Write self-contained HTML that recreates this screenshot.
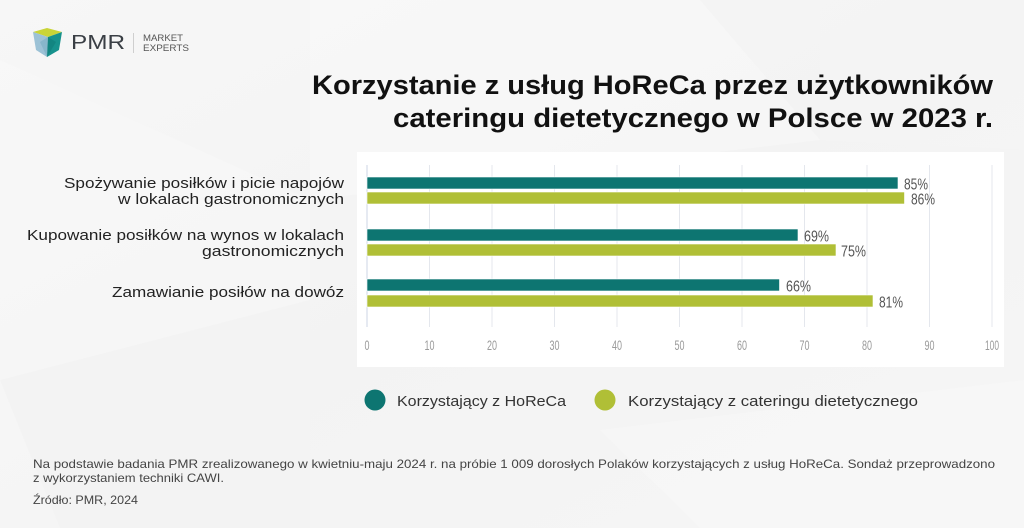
<!DOCTYPE html>
<html><head><meta charset="utf-8"><style>
html,body{margin:0;padding:0;width:1024px;height:528px;overflow:hidden;background:#f4f4f4}
svg{display:block}
</style></head><body>
<svg width="1024" height="528" viewBox="0 0 1024 528" xmlns="http://www.w3.org/2000/svg" font-family="'Liberation Sans', sans-serif">
<defs>
<linearGradient id="bg" x1="0" y1="0" x2="1" y2="1">
<stop offset="0" stop-color="#f7f7f7"/><stop offset="0.5" stop-color="#f3f3f3"/><stop offset="1" stop-color="#f6f6f6"/>
</linearGradient>
</defs>
<rect width="1024" height="528" fill="url(#bg)"/>
<polygon points="0,60 310,200 310,528 0,528" fill="#ffffff" opacity="0.2"/>
<polygon points="310,0 700,0 820,140 310,200" fill="#ffffff" opacity="0.25"/>
<polygon points="820,0 1024,0 1024,150 820,140" fill="#ffffff" opacity="0.15"/>
<polygon points="0,380 310,300 310,528 60,528" fill="#ebebeb" opacity="0.2"/>
<polygon points="600,430 1024,380 1024,528 700,528" fill="#ffffff" opacity="0.2"/>

<!-- Logo -->
<polygon points="33,32 47,28 62,32 48,37" fill="#c9d437"/>
<polygon points="33,32 48,37 47,57 36,50" fill="#9cc2d6"/>
<polygon points="48,37 62,32 59,50 47,57" fill="#17928d"/>
<polygon points="40,42 48,37 47,57" fill="#7fb0c6" opacity="0.7"/>
<polygon points="48,37 56,42 47,57" fill="#0f7d79" opacity="0.6"/>
<text x="71" y="49" font-size="20" fill="#3a3f45" textLength="54" lengthAdjust="spacingAndGlyphs">PMR</text>
<line x1="133.5" y1="33" x2="133.5" y2="53" stroke="#cfcfcf" stroke-width="1"/>
<text x="143" y="41" font-size="9" fill="#555" textLength="40" lengthAdjust="spacingAndGlyphs">MARKET</text>
<text x="143" y="51" font-size="9" fill="#555" textLength="46" lengthAdjust="spacingAndGlyphs">EXPERTS</text>

<!-- Title -->
<text x="993" y="94" font-size="27" font-weight="bold" fill="#111" text-anchor="end" textLength="681" lengthAdjust="spacingAndGlyphs">Korzystanie z usług HoReCa przez użytkowników</text>
<text x="993" y="127" font-size="27" font-weight="bold" fill="#111" text-anchor="end" textLength="600" lengthAdjust="spacingAndGlyphs">cateringu dietetycznego w Polsce w 2023 r.</text>

<!-- Category labels -->
<g font-size="15" fill="#222" text-anchor="end">
<text x="344" y="188" textLength="280" lengthAdjust="spacingAndGlyphs">Spożywanie posiłków i picie napojów</text>
<text x="344" y="204" textLength="226" lengthAdjust="spacingAndGlyphs">w lokalach gastronomicznych</text>
<text x="344" y="240" textLength="317" lengthAdjust="spacingAndGlyphs">Kupowanie posiłków na wynos w lokalach</text>
<text x="344" y="256" textLength="142" lengthAdjust="spacingAndGlyphs">gastronomicznych</text>
<text x="344" y="297" textLength="232" lengthAdjust="spacingAndGlyphs">Zamawianie posiłów na dowóz</text>
</g>

<!-- Chart panel -->
<rect x="357" y="152" width="647" height="215" fill="#ffffff"/>
<g stroke="#e4e7ed" stroke-width="1">
<line x1="429.5" y1="165" x2="429.5" y2="327"/>
<line x1="492" y1="165" x2="492" y2="327"/>
<line x1="554.5" y1="165" x2="554.5" y2="327"/>
<line x1="617" y1="165" x2="617" y2="327"/>
<line x1="679.5" y1="165" x2="679.5" y2="327"/>
<line x1="742" y1="165" x2="742" y2="327"/>
<line x1="804.5" y1="165" x2="804.5" y2="327"/>
<line x1="867" y1="165" x2="867" y2="327"/>
<line x1="929.5" y1="165" x2="929.5" y2="327"/>
<line x1="992" y1="165" x2="992" y2="327"/>
</g>
<line x1="367" y1="165" x2="367" y2="327" stroke="#cdd6e6" stroke-width="1"/>

<!-- Bars -->
<g stroke="#ffffff" stroke-width="0.6">
<rect x="367" y="177" width="531" height="12" fill="#0d7571"/>
<rect x="367" y="192" width="537.5" height="12" fill="#b0bf36"/>
<rect x="367" y="229" width="431" height="12" fill="#0d7571"/>
<rect x="367" y="244" width="469" height="12" fill="#b0bf36"/>
<rect x="367" y="279" width="412.5" height="12" fill="#0d7571"/>
<rect x="367" y="295" width="506" height="12" fill="#b0bf36"/>
</g>

<!-- Value labels -->
<g font-size="16" fill="#555">
<text x="904" y="189.5" textLength="24" lengthAdjust="spacingAndGlyphs">85%</text>
<text x="911" y="204.5" textLength="24" lengthAdjust="spacingAndGlyphs">86%</text>
<text x="804" y="241.5" textLength="25" lengthAdjust="spacingAndGlyphs">69%</text>
<text x="841" y="256.5" textLength="25" lengthAdjust="spacingAndGlyphs">75%</text>
<text x="786" y="291.5" textLength="25" lengthAdjust="spacingAndGlyphs">66%</text>
<text x="879" y="307.5" textLength="24" lengthAdjust="spacingAndGlyphs">81%</text>
</g>

<!-- Tick labels -->
<g font-size="14" fill="#9a9a9a" text-anchor="middle">
<text x="367" y="350" textLength="5" lengthAdjust="spacingAndGlyphs">0</text>
<text x="429.5" y="350" textLength="10" lengthAdjust="spacingAndGlyphs">10</text>
<text x="492" y="350" textLength="10" lengthAdjust="spacingAndGlyphs">20</text>
<text x="554.5" y="350" textLength="10" lengthAdjust="spacingAndGlyphs">30</text>
<text x="617" y="350" textLength="10" lengthAdjust="spacingAndGlyphs">40</text>
<text x="679.5" y="350" textLength="10" lengthAdjust="spacingAndGlyphs">50</text>
<text x="742" y="350" textLength="10" lengthAdjust="spacingAndGlyphs">60</text>
<text x="804.5" y="350" textLength="10" lengthAdjust="spacingAndGlyphs">70</text>
<text x="867" y="350" textLength="10" lengthAdjust="spacingAndGlyphs">80</text>
<text x="929.5" y="350" textLength="10" lengthAdjust="spacingAndGlyphs">90</text>
<text x="992" y="350" textLength="14" lengthAdjust="spacingAndGlyphs">100</text>
</g>

<!-- Legend -->
<circle cx="375" cy="400" r="10.5" fill="#0d7571"/>
<text x="397" y="406" font-size="15" fill="#333" textLength="169" lengthAdjust="spacingAndGlyphs">Korzystający z HoReCa</text>
<circle cx="605" cy="400" r="10.5" fill="#b0bf36"/>
<text x="628" y="406" font-size="15" fill="#333" textLength="290" lengthAdjust="spacingAndGlyphs">Korzystający z cateringu dietetycznego</text>

<!-- Footnote -->
<g font-size="12" fill="#444">
<text x="33" y="468" textLength="962" lengthAdjust="spacingAndGlyphs">Na podstawie badania PMR zrealizowanego w kwietniu-maju 2024 r. na próbie 1 009 dorosłych Polaków korzystających z usług HoReCa. Sondaż przeprowadzono</text>
<text x="33" y="482" textLength="191" lengthAdjust="spacingAndGlyphs">z wykorzystaniem techniki CAWI.</text>
<text x="33" y="504" textLength="105" lengthAdjust="spacingAndGlyphs">Źródło: PMR, 2024</text>
</g>
</svg>
</body></html>
